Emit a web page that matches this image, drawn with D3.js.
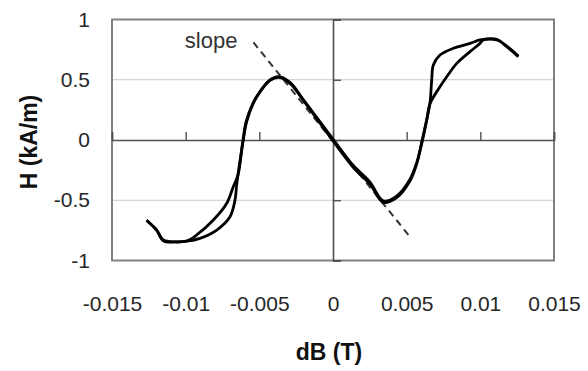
<!DOCTYPE html>
<html>
<head>
<meta charset="utf-8">
<script src="https://cdn.jsdelivr.net/npm/d3@7"></script>
<style>
  body { margin: 0; background: #fff; }
  text { font-family: "Liberation Sans", Arial, sans-serif; }
</style>
</head>
<body>
<div id="chart"></div>
<script>
// dB (T) vs H (kA/m), two branches of the loop
const upB = [-0.01265, -0.01197, -0.01152, -0.01072, -0.00993, -0.00903, -0.00789, -0.00699, -0.00665, -0.00654, -0.00645, -0.00609, -0.00586, -0.00541, -0.00495, -0.00428, -0.00371, -0.00292, -0.00204, 0, 0.00138, 0.00251, 0.00341, 0.00432, 0.00523, 0.00568, 0.00602, 0.00636, 0.00658, 0.00670, 0.00681, 0.00726, 0.00817, 0.00930, 0.00998, 0.01111, 0.01179, 0.01258];
const upH = [-0.664, -0.750, -0.830, -0.846, -0.840, -0.816, -0.747, -0.637, -0.498, -0.373, -0.290, 0.000, 0.152, 0.305, 0.401, 0.498, 0.525, 0.478, 0.340, 0.008, -0.212, -0.350, -0.505, -0.465, -0.325, -0.190, -0.020, 0.170, 0.305, 0.498, 0.622, 0.705, 0.761, 0.802, 0.830, 0.836, 0.774, 0.691];

const downB = [-0.01265, -0.01197, -0.01152, -0.01072, -0.00993, -0.00925, -0.00812, -0.00721, -0.00677, -0.00645, -0.00612, -0.00590, -0.00545, -0.00498, -0.00430, -0.00365, -0.00288, -0.00200, 0, 0.00138, 0.00251, 0.00341, 0.00432, 0.00523, 0.00568, 0.00602, 0.00636, 0.00658, 0.00726, 0.00772, 0.00840, 0.00930, 0.00998, 0.01020, 0.01111, 0.01179, 0.01258];
const downH = [-0.670, -0.745, -0.836, -0.846, -0.838, -0.788, -0.664, -0.525, -0.388, -0.290, -0.010, 0.150, 0.300, 0.396, 0.492, 0.520, 0.466, 0.326, -0.008, -0.228, -0.366, -0.518, -0.478, -0.338, -0.197, -0.030, 0.162, 0.300, 0.442, 0.525, 0.636, 0.733, 0.802, 0.830, 0.830, 0.780, 0.697];

// dashed "slope" line
const slopeB = [-0.0054, 0.0052];
const slopeH = [0.81, -0.80];

const xTicks = [-0.015, -0.01, -0.005, 0, 0.005, 0.01, 0.015];
const xTickLabels = ["-0.015", "-0.01", "-0.005", "0", "0.005", "0.01", "0.015"];
const yTicks = [-1, -0.5, 0, 0.5, 1];
const yTickLabels = ["-1", "-0.5", "0", "0.5", "1"];

const width = 588;
const height = 371;
const margin = {top: 19.5, right: 34, bottom: 110.5, left: 112};

const svg = d3.select("#chart").append("svg")
  .attr("width", width)
  .attr("height", height);

const x = d3.scaleLinear().domain([-0.015, 0.015]).range([margin.left, width - margin.right]);
const y = d3.scaleLinear().domain([-1, 1]).range([height - margin.bottom, margin.top]);

// grid at +-0.5
svg.append("g")
  .selectAll("line")
  .data([-0.5, 0.5])
  .join("line")
  .attr("x1", x(-0.015)).attr("x2", x(0.015))
  .attr("y1", d => y(d)).attr("y2", d => y(d))
  .attr("stroke", "#c8c8c8")
  .attr("stroke-width", 1.2);

// plot frame
svg.append("rect")
  .attr("x", x(-0.015)).attr("y", y(1))
  .attr("width", x(0.015) - x(-0.015))
  .attr("height", y(-1) - y(1))
  .attr("fill", "none")
  .attr("stroke", "#808080")
  .attr("stroke-width", 2);

// axes through the origin, ticks only
const xZero = svg.append("g")
  .attr("transform", `translate(0,${y(0)})`)
  .call(d3.axisTop(x).tickValues(xTicks).tickSize(8).tickFormat(""));
const yZero = svg.append("g")
  .attr("transform", `translate(${x(0)},0)`)
  .call(d3.axisRight(y).tickValues(yTicks).tickSize(8).tickFormat(""));
[xZero, yZero].forEach(g => {
  g.select(".domain").attr("stroke", "#505050").attr("stroke-width", 1.6);
  g.selectAll(".tick line").attr("stroke", "#505050").attr("stroke-width", 1.4);
});

// tick labels
const xLab = svg.append("g")
  .attr("transform", `translate(0,${y(-1)})`)
  .call(d3.axisBottom(x).tickValues(xTicks).tickSize(0).tickPadding(36)
    .tickFormat((d, i) => xTickLabels[i]));
const yLab = svg.append("g")
  .attr("transform", `translate(${x(-0.015)},0)`)
  .call(d3.axisLeft(y).tickValues(yTicks).tickSize(0).tickPadding(22)
    .tickFormat((d, i) => yTickLabels[i]));
[xLab, yLab].forEach(g => {
  g.select(".domain").remove();
  g.selectAll("text")
    .attr("font-family", '"Liberation Sans", Arial, sans-serif')
    .attr("font-size", 21)
    .attr("fill", "#262626");
});

// slope
svg.append("line")
  .attr("x1", x(slopeB[0])).attr("y1", y(slopeH[0]))
  .attr("x2", x(slopeB[1])).attr("y2", y(slopeH[1]))
  .attr("stroke", "#333")
  .attr("stroke-width", 2)
  .attr("stroke-dasharray", "7,5");

svg.append("text")
  .attr("x", x(slopeB[0]) - 16)
  .attr("y", y(slopeH[0]) + 6)
  .attr("text-anchor", "end")
  .attr("font-size", 22)
  .attr("fill", "#333")
  .text("slope");

// loop
const line = d3.line()
  .curve(d3.curveCatmullRom.alpha(0.5))
  .x(d => x(d[0]))
  .y(d => y(d[1]));

const branches = [
  d3.zip(upB, upH),
  d3.zip(downB, downH)
];

svg.append("g")
  .selectAll("path")
  .data(branches)
  .join("path")
  .attr("d", line)
  .attr("fill", "none")
  .attr("stroke", "#000")
  .attr("stroke-width", 2.8)
  .attr("stroke-linejoin", "round");

// axis titles
svg.append("text")
  .attr("x", x(0) - 4)
  .attr("y", 360)
  .attr("text-anchor", "middle")
  .attr("font-size", 23)
  .attr("font-weight", "bold")
  .attr("fill", "#111")
  .text("dB (T)");

svg.append("text")
  .attr("transform", `translate(37,${y(0) + 2}) rotate(-90)`)
  .attr("text-anchor", "middle")
  .attr("font-size", 23)
  .attr("font-weight", "bold")
  .attr("fill", "#111")
  .text("H (kA/m)");
</script>
</body>
</html>
